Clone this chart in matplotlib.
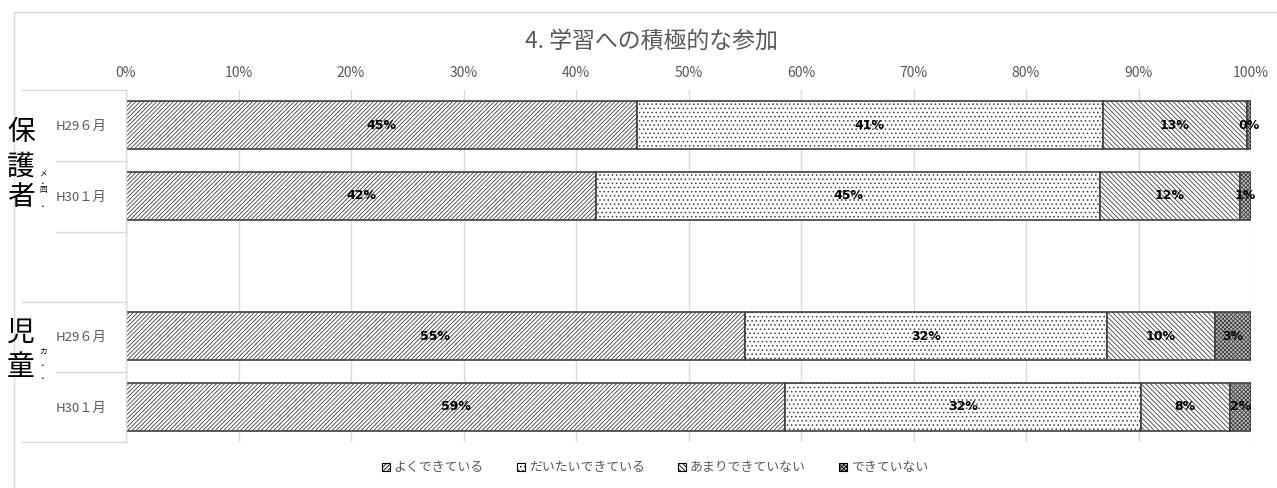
import numpy as np
import matplotlib.pyplot as plt
from matplotlib.lines import Line2D
from matplotlib.patches import Patch

plt.rcParams['font.family'] = ['Noto Sans CJK JP', 'DejaVu Sans']
plt.rcParams['hatch.linewidth'] = 0.6

# data (percent)
rows = ['H29６月', 'H30１月', 'H29６月', 'H30１月']
positions = [0, 1, 3, 4]
series = ['よくできている', 'だいたいできている', 'あまりできていない', 'できていない']
yoku = [45.4, 41.8, 55.0, 58.6]
daitai = [41.4, 44.8, 32.2, 31.6]
amari = [12.8, 12.4, 9.6, 7.9]
dekinai = [0.4, 1.0, 3.2, 1.9]

hatches = ['////////', '....', '\\\\\\\\\\\\\\', 'xxxxxxxx']
faces = ['white', 'white', 'white', '#bfbfbf']
edge = '#404040'
gray = '#595959'

fig = plt.figure(figsize=(12.77, 4.88), dpi=100)
W, H = 1277, 488
ax = fig.add_axes([126 / W, 1 - 442 / H, (1251 - 126) / W, (442 - 90) / H])

left = np.zeros(len(rows))
for vals, h, fc in zip([yoku, daitai, amari, dekinai], hatches, faces):
    vals = np.array(vals)
    ax.barh(positions, vals, left=left, height=0.68, color=fc,
            edgecolor=edge, hatch=h, linewidth=1.2, zorder=3)
    for p, l, v in zip(positions, left, vals):
        ax.text(l + v / 2, p, f"{v:.0f}%", ha='center', va='center',
                fontsize=9, fontweight='bold', color='black',
                family='DejaVu Sans', zorder=4)
    left += vals

ax.set_xlim(0, 100)
ax.set_ylim(4.5, -0.5)
ax.xaxis.tick_top()
ax.set_xticks(np.arange(0, 101, 10))
ax.set_xticklabels([f"{t}%" for t in range(0, 101, 10)], color=gray, fontsize=10)
ax.tick_params(axis='x', length=0, pad=7)
ax.set_yticks(positions)
ax.set_yticklabels(rows, color=gray, fontsize=9.5)
ax.tick_params(axis='y', length=0, pad=14)
ax.grid(axis='x', color='#d9d9d9', linewidth=1, zorder=0)
for s in ax.spines.values():
    s.set_visible(False)

# category table lines on the left
for y, x0 in [(90, 22), (161, 56), (232, 56), (302, 22), (372, 56), (442, 22)]:
    fig.add_artist(Line2D([x0 / W, 126 / W], [1 - y / H, 1 - y / H],
                          color='#d9d9d9', linewidth=1))
fig.add_artist(Line2D([126 / W, 126 / W], [1 - 90 / H, 1 - 442 / H],
                      color='#d9d9d9', linewidth=1))

# outer chart border
fig.add_artist(Line2D([14 / W, 14 / W], [1 - 12 / H, 0], color='#d9d9d9', linewidth=1))
fig.add_artist(Line2D([14 / W, 1], [1 - 12 / H, 1 - 12 / H], color='#d9d9d9', linewidth=1))

# group labels
for ch, y in zip('保護者', [132, 167, 197]):
    fig.text(21 / W, 1 - y / H, ch, fontsize=20, ha='center', va='center', color='black')
for ch, y in zip('メ・回・', [175, 184, 190, 207]):
    fig.text(43 / W, 1 - y / H, ch, fontsize=5.5, ha='center', va='center', color='black')
for ch, y in zip('児童', [333, 367]):
    fig.text(21 / W, 1 - y / H, ch, fontsize=20, ha='center', va='center', color='black')
for ch, y in zip('カ・・', [352, 366, 379]):
    fig.text(43 / W, 1 - y / H, ch, fontsize=5.5, ha='center', va='center', color='black')

fig.text(651 / W, 1 - 41 / H, '4. 学習への積極的な参加',
         fontsize=16.5, color=gray, ha='center', va='center')

handles = [Patch(facecolor=fc, edgecolor='black', hatch=h, linewidth=0.8)
           for h, fc in zip(hatches, faces)]
fig.legend(handles, series, loc='center', bbox_to_anchor=(655 / W, 1 - 468 / H),
           ncol=4, frameon=False, fontsize=9.3, handlelength=0.6, handleheight=0.6,
           handletextpad=0.3, columnspacing=2.6, labelcolor=gray)

fig.savefig('out.png', dpi=100)
